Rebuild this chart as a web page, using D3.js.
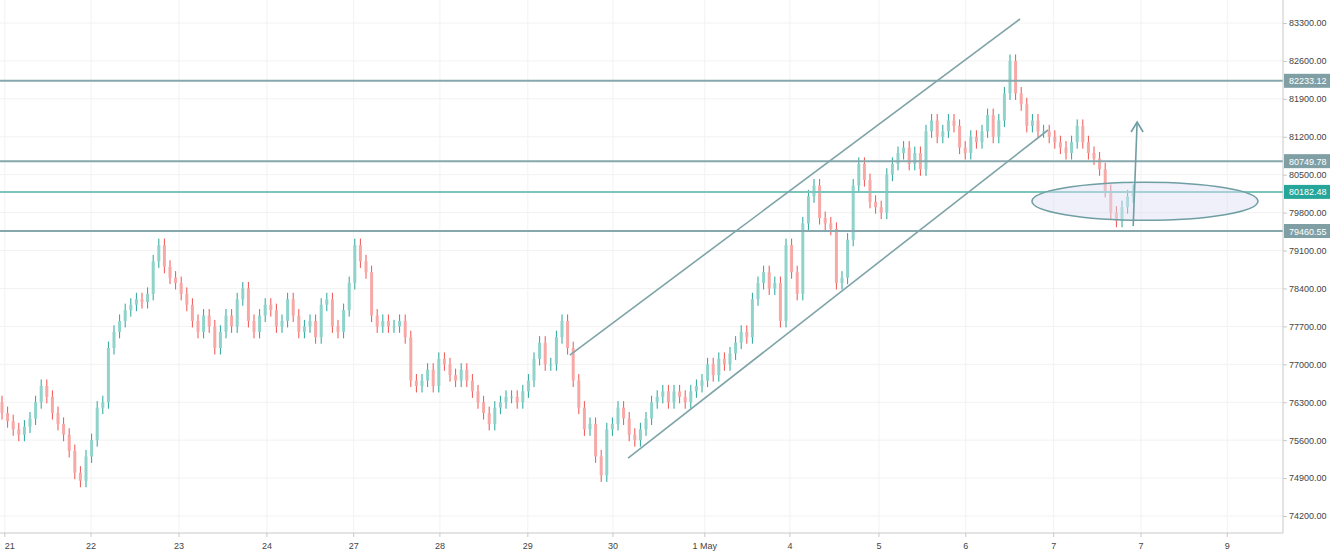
<!DOCTYPE html>
<html><head><meta charset="utf-8">
<script src="https://cdn.jsdelivr.net/npm/d3@7"></script>
<style>body{margin:0;background:#fff;font-family:"Liberation Sans",Arial,sans-serif}</style>
</head><body><svg id="c" width="1330" height="552"></svg>
<script>
// close prices, one per candle
const closes = [
 76100,75950,75800,75700,75850,76000,76300,76600,76400,76100,
 75900,75700,75400,75000,74850,75300,75600,76200,76300,77300,
 77600,77800,78000,78100,78200,78150,78300,78900,79200,78800,
 78600,78500,78300,78100,77800,77600,77900,77700,77300,77600,
 77900,77700,78200,78400,77800,77600,77900,78100,78000,77700,
 77800,78200,77900,77600,77700,77800,77500,78100,78200,77700,
 77600,78000,78500,79200,78900,78700,77900,77700,77800,77700,
 77700,77800,77500,76700,76600,76700,76900,76600,77100,77000,
 76800,76700,76900,76700,76500,76300,76100,75900,76200,76300,
 76400,76400,76300,76500,76700,77100,77400,77000,77000,77500,
 77800,77300,76700,76200,75800,75900,75300,74950,75800,75900,
 76200,76000,75700,75600,75800,76000,76300,76400,76500,76300,
 76500,76400,76300,76500,76600,76700,77000,76800,77100,77000,
 77200,77400,77600,77500,78200,78500,78700,78400,78500,77800,
 79200,78700,78300,79600,80100,80300,79700,79600,79500,78500,
 78600,79300,80300,80700,80400,80000,79900,79800,80500,80700,
 80900,81000,80700,80900,80600,81300,81500,81200,81300,81500,
 81400,81000,80900,81200,81100,81300,81600,81200,81500,82000,
 82600,82000,81800,81400,81500,81300,81300,81200,81100,81000,
 80900,81100,81400,81100,80900,80800,80600,80200,79800,79650,
 79900,80100,80200];
const firstOpen = 76300;
const dayLabels = ["21","22","23","24","27","28","29","30","1 May","4","5","6","7","7","9"];
const dayIndex = [0.5,15.9,31.6,47.3,62.8,78.2,93.9,109.1,125.5,140.7,156.6,172.1,187.8,203.4,218.8];
const priceTicks = [83300,82600,81900,81200,80500,79800,79100,78400,77700,77000,76300,75600,74900,74200];
const levels = [82233.12,80749.78,80182.48,79460.55];
const levelColors = ["#7f9fa4","#7f9fa4","#26a69a","#7f9fa4"];
const channel = [[[101.4,77171],[181.8,83374]],[[111.8,75270],[186.8,81325]]];
const ellipse = {i:204.1,p:80010,rx:113,ry:19};
const arrow = [[202,79553],[202.7,81473]];

const svg = d3.select("#c");
const x = d3.scaleLinear().domain([0,1]).range([2,7.6]);
const y = d3.scaleLinear().domain([83300,74200]).range([23,516]);
const R = 1283;

// grid
svg.append("g").selectAll("line").data(priceTicks).join("line")
  .attr("x1",0).attr("x2",R).attr("y1",d=>y(d)).attr("y2",d=>y(d)).attr("stroke","#f2f2f2");
svg.append("g").selectAll("line").data(dayIndex).join("line")
  .attr("x1",d=>x(d)).attr("x2",d=>x(d)).attr("y1",0).attr("y2",533).attr("stroke","#f2f2f2");

// candles
const candles = closes.map((c,i)=>{
  const o = i===0 ? firstOpen : closes[i-1];
  return {i,o,c,h:Math.max(o,c)+120,l:Math.min(o,c)-120};
});
const g = svg.append("g");
g.selectAll("line").data(candles).join("line")
  .attr("x1",d=>x(d.i)).attr("x2",d=>x(d.i)).attr("y1",d=>y(d.h)).attr("y2",d=>y(d.l))
  .attr("stroke",d=>d.c>=d.o?"#26a69a":"#ef5350").attr("stroke-width",1);
g.selectAll("rect").data(candles).join("rect")
  .attr("x",d=>x(d.i)-1.5).attr("width",3)
  .attr("y",d=>y(Math.max(d.o,d.c))).attr("height",d=>Math.max(1,Math.abs(y(d.o)-y(d.c))))
  .attr("fill",d=>d.c>=d.o?"#8fd3cb":"#f7a9a7");

// levels
svg.append("g").selectAll("line").data(levels).join("line")
  .attr("x1",0).attr("x2",R).attr("y1",d=>y(d)).attr("y2",d=>y(d))
  .attr("stroke",(d,i)=>i===2?"#7cc5bd":"#86a7ab").attr("stroke-width",2);

// channel
svg.append("g").selectAll("line").data(channel).join("line")
  .attr("x1",d=>x(d[0][0])).attr("y1",d=>y(d[0][1])).attr("x2",d=>x(d[1][0])).attr("y2",d=>y(d[1][1]))
  .attr("stroke","#7fa3a8").attr("stroke-width",1.6);

svg.append("ellipse").attr("cx",x(ellipse.i)).attr("cy",y(ellipse.p)).attr("rx",ellipse.rx).attr("ry",ellipse.ry)
  .attr("fill","rgba(220,222,245,0.45)").attr("stroke","#6f9ea3").attr("stroke-width",1.6);

const ax1=x(arrow[0][0]),ay1=y(arrow[0][1]),ax2=x(arrow[1][0]),ay2=y(arrow[1][1]);
svg.append("line").attr("x1",ax1).attr("y1",ay1).attr("x2",ax2).attr("y2",ay2).attr("stroke","#6f9ea3").attr("stroke-width",1.6);
svg.append("path").attr("d",`M${ax2-6},${ay2+10}L${ax2},${ay2}L${ax2+6},${ay2+10}`)
  .attr("fill","none").attr("stroke","#6f9ea3").attr("stroke-width",1.6);

// right axis
svg.append("rect").attr("x",R).attr("y",0).attr("width",1330-R).attr("height",552).attr("fill","#fff");
svg.append("rect").attr("x",0).attr("y",533).attr("width",R).attr("height",19).attr("fill","#fff");
svg.append("line").attr("x1",R).attr("x2",R).attr("y1",0).attr("y2",533).attr("stroke","#c8c8c8");
svg.append("line").attr("x1",0).attr("x2",R).attr("y1",533).attr("y2",533).attr("stroke","#c8c8c8");
const ya = d3.axisRight(y).tickValues(priceTicks).tickSize(4).tickFormat(d3.format(".2f"));
const yg = svg.append("g").attr("transform",`translate(${R},0)`).call(ya);
yg.select(".domain").remove();
yg.selectAll("line").attr("stroke","#c8c8c8");
yg.selectAll("text").attr("fill","#444").style("font-size","9px").attr("x",6);

const lb = svg.append("g").selectAll("g").data(levels).join("g").attr("transform",d=>`translate(${R+1},${y(d)})`);
lb.append("rect").attr("x",0).attr("y",-7).attr("width",46).attr("height",14).attr("fill",(d,i)=>levelColors[i]);
lb.append("text").attr("x",5).attr("y",3.5).attr("fill","#fff").style("font-size","9px").text(d=>d.toFixed(2));

// bottom axis
const xa = svg.append("g").selectAll("g").data(dayIndex).join("g").attr("transform",d=>`translate(${x(d)},533)`);
xa.append("line").attr("y2",4).attr("stroke","#c8c8c8");
xa.append("text").attr("y",16).attr("text-anchor",(d,i)=>i===0?"start":"middle").attr("fill","#444")
  .style("font-size","9px").text((d,i)=>dayLabels[i]);
</script></body></html>
